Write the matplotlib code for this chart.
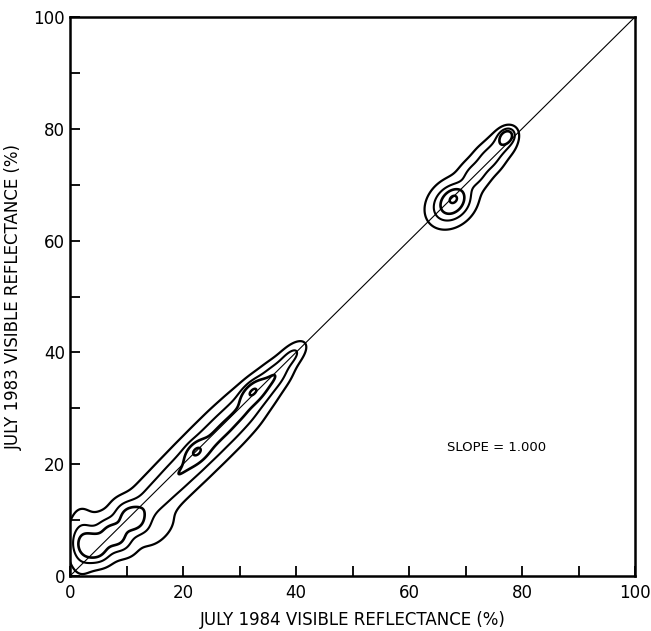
import numpy as np
import matplotlib
matplotlib.use("Agg")
import matplotlib.pyplot as plt
from matplotlib.ticker import MultipleLocator

# frequency clusters, as anisotropic blobs
# (x centre, y centre, spread along axis 1, spread along axis 2, peak height, axis-1 angle in degrees)
blob_x = [4.3, 7.8, 10.8, 2.0, 16.0,
          12.5, 15.5, 18.5, 21.5, 24.5, 27.5, 30.5, 33.4, 36.3, 39.2,
          22.4, 32.3,
          67.6, 71.6, 74.1, 76.5, 77.3, 67.9]
blob_y = [5.1, 7.3, 10.2, 6.2, 8.0,
          11.5, 14.5, 17.5, 20.5, 23.5, 26.5, 29.5, 32.8, 35.9, 39.4,
          22.3, 33.0,
          66.8, 71.8, 74.6, 77.3, 78.7, 67.5]
blob_s1 = [1.7, 1.7, 1.7, 1.5, 2.5,
           2.5, 2.5, 2.5, 2.5, 2.5, 2.5, 2.5, 2.5, 2.3, 2.0,
           1.2, 1.5,
           2.6, 1.8, 1.8, 1.8, 1.0, 0.9]
blob_s2 = [2.0, 2.4, 2.3, 3.5, 1.2,
           2.2, 2.2, 2.2, 2.2, 2.2, 2.2, 2.1, 1.8, 1.4, 1.0,
           0.8, 0.8,
           2.0, 1.6, 1.6, 1.4, 0.8, 0.7]
blob_height = [1.15, 1.0, 0.8, 0.5, 0.2,
               0.45, 0.5, 0.55, 0.6, 0.62, 0.62, 0.62, 0.62, 0.64, 0.52,
               1.05, 1.05,
               1.2, 0.55, 0.55, 0.55, 1.0, 0.8]
blob_angle = [45, 45, 45, 0, 45,
              45, 45, 45, 45, 45, 45, 45, 45, 45, 45,
              45, 45,
              45, 45, 45, 45, 45, 45]

contour_levels = [0.135, 0.46, 0.83, 1.7]
contour_widths = [1.6, 1.5, 1.9, 1.8]

slope_text = "SLOPE = 1.000"


def density(xx, yy):
    z = np.zeros_like(xx)
    for cx, cy, s1, s2, h, a in zip(blob_x, blob_y, blob_s1, blob_s2,
                                    blob_height, blob_angle):
        c, s = np.cos(np.radians(a)), np.sin(np.radians(a))
        u = (xx - cx) * c + (yy - cy) * s
        v = -(xx - cx) * s + (yy - cy) * c
        z += h * np.exp(-0.5 * (u / s1) ** 2 - 0.5 * (v / s2) ** 2)
    return z


g = np.linspace(0, 100, 801)
xx, yy = np.meshgrid(g, g)
zz = density(xx, yy)

fig = plt.figure(figsize=(6.51, 6.31), dpi=100)
ax = fig.add_axes([70 / 651, 1 - 576 / 631, 565 / 651, 559 / 631])

ax.contour(xx, yy, zz, levels=contour_levels, colors="black",
           linewidths=contour_widths)
ax.plot([0, 100], [0, 100], color="black", lw=0.8)

ax.set_xlim(0, 100)
ax.set_ylim(0, 100)
ax.xaxis.set_major_locator(MultipleLocator(20))
ax.yaxis.set_major_locator(MultipleLocator(20))
ax.xaxis.set_minor_locator(MultipleLocator(10))
ax.yaxis.set_minor_locator(MultipleLocator(10))
ax.tick_params(which="both", direction="in", length=7, width=1.3,
               labelsize=12, top=False, right=False)
ax.tick_params(axis="x", pad=6)
for sp in ax.spines.values():
    sp.set_linewidth(1.8)

ax.set_xlabel("JULY 1984 VISIBLE REFLECTANCE (%)", fontsize=12, labelpad=6)
ax.set_ylabel("JULY 1983 VISIBLE REFLECTANCE (%)", fontsize=12, labelpad=8)
ax.text(75.5, 23, slope_text, fontsize=9.5, ha="center", va="center")

fig.savefig("out.png", dpi=100)
